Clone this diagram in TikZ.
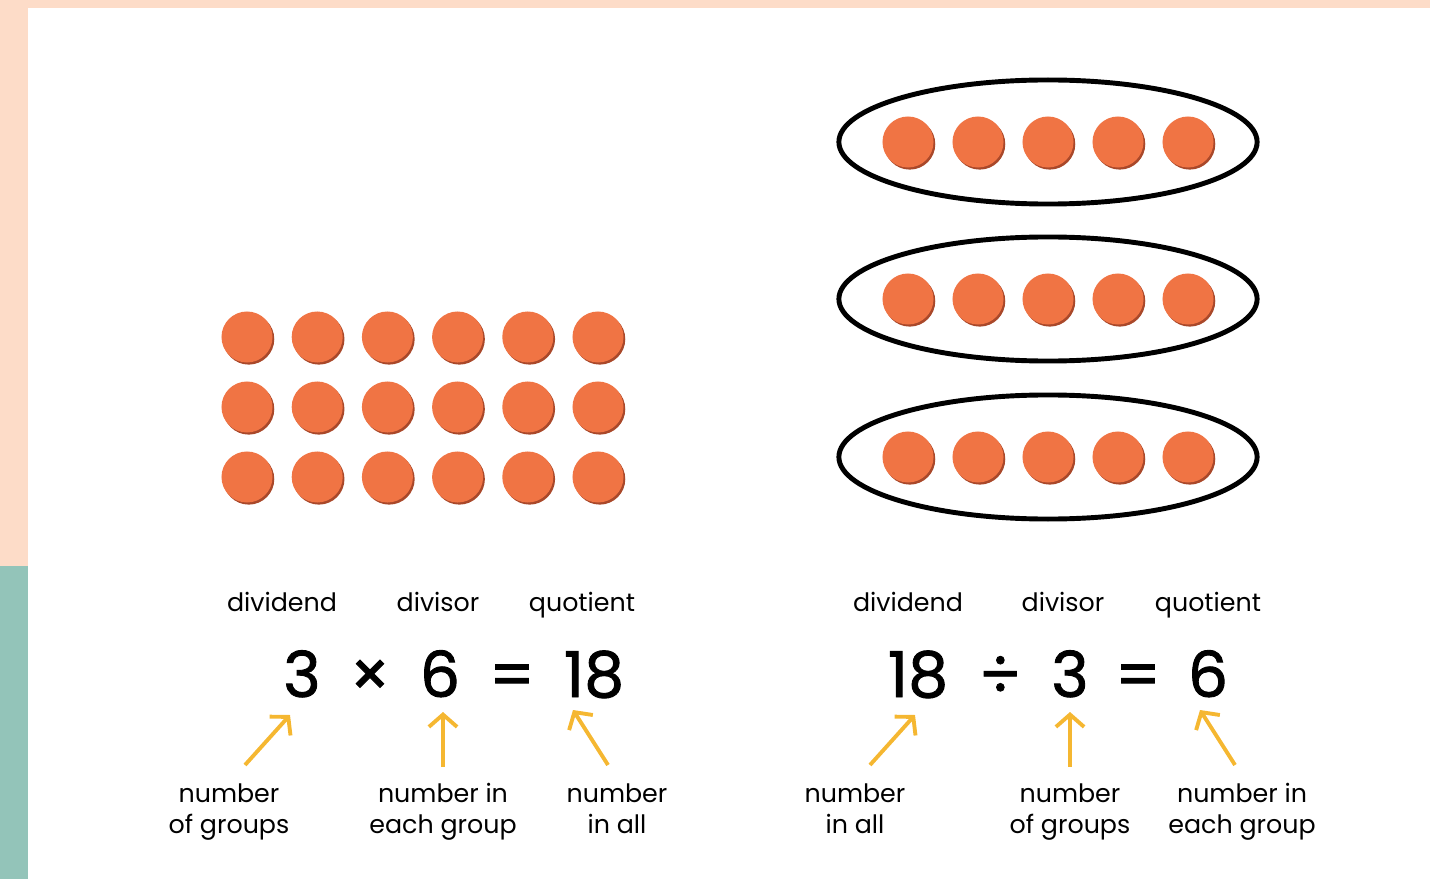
\documentclass[tikz,border=0pt]{standalone}
\usepackage{fontspec}
\setmainfont{Poppins}
\newfontfamily\numfont{Poppins}[FakeBold=1.4]
\usetikzlibrary{arrows.meta,shapes.geometric}
\definecolor{peach}{HTML}{FDDCC8}
\definecolor{sidegreen}{HTML}{93C4B9}
\definecolor{dotorange}{HTML}{F07444}
\definecolor{dotedge}{HTML}{A9482A}
\definecolor{arrowgold}{HTML}{F5B731}
\begin{document}
\begin{tikzpicture}[x=0.01cm, y=-0.01cm,
    dot/.style={circle, fill=dotorange, minimum size=0.51cm, inner sep=0pt,
        preaction={fill=dotedge, transform canvas={xshift=0.5pt, yshift=-0.6pt}}},
    group/.style={ellipse, draw, line width=1.4pt, minimum width=4.18cm, minimum height=1.24cm, inner sep=0pt},
    lab/.style={align=center, anchor=base, inner sep=0pt, font=\fontsize{7.2}{8.8}\selectfont},
    big/.style={anchor=base, inner sep=0pt, font=\fontsize{18}{20}\numfont},
    arr/.style={arrowgold, line width=1.1pt, -{Straight Barb[length=3.5pt, width=8pt]}}]
        \useasboundingbox (0,0) rectangle (1430,879);
        % background strips
        \fill[peach] (0,0) rectangle (1430,8);
        \fill[peach] (0,0) rectangle (28,566);
        \fill[sidegreen] (0,566) rectangle (28,879);
        % left array, 3 rows of 6
        \foreach \r in {0,1,2}
            \foreach \c in {0,...,5}
                \node[dot] (a\r\c) at (247+70.2*\c, 337+70*\r) {};
        % right side, 3 groups of 5
        \foreach \g/\y in {1/142, 2/299, 3/457} {
            \node[group] (g\g) at (1048,\y) {};
            \foreach \c in {0,...,4}
                \node[dot] (b\g\c) at (908+70*\c, \y) {};
        }
        % left equation
        \node[lab] (ldvd) at (282,611) {dividend};
        \node[lab] (ldvs) at (438,611) {divisor};
        \node[lab] (lquo) at (582,611) {quotient};
        \node[big] (l3) at (302,697) {3};
        \node[big] (lx) at (370,697) {×};
        \node[big] (l6) at (440,697) {6};
        \node[big] (leq) at (512,697) {=};
        \node[big] (l18) at (594,697) {18};
        \node[lab] (lgrp) at (229,833) {number\\of groups};
        \node[lab] (leach) at (443,833) {number in\\each group};
        \node[lab] (lall) at (617,833) {number\\in all};
        \coordinate (lt1) at (245,765); \coordinate (lh1) at (290,715);
        \coordinate (lt2) at (443,767); \coordinate (lh2) at (443,712);
        \coordinate (lt3) at (608,765); \coordinate (lh3) at (573,710);
        \draw[arr] (lt1) -- (lh1);
        \draw[arr] (lt2) -- (lh2);
        \draw[arr] (lt3) -- (lh3);
        % right equation
        \node[lab] (rdvd) at (908,611) {dividend};
        \node[lab] (rdvs) at (1063,611) {divisor};
        \node[lab] (rquo) at (1208,611) {quotient};
        \node[big] (r18) at (918,697) {18};
        \node[big] (rdiv) at (1000,697) {÷};
        \node[big] (r3) at (1070,697) {3};
        \node[big] (req) at (1138,697) {=};
        \node[big] (r6) at (1208,697) {6};
        \node[lab] (rall) at (855,833) {number\\in all};
        \node[lab] (rgrp) at (1070,833) {number\\of groups};
        \node[lab] (reach) at (1242,833) {number in\\each group};
        \coordinate (rt1) at (870,765); \coordinate (rh1) at (915,715);
        \coordinate (rt2) at (1070,767); \coordinate (rh2) at (1070,712);
        \coordinate (rt3) at (1235,765); \coordinate (rh3) at (1200,710);
        \draw[arr] (rt1) -- (rh1);
        \draw[arr] (rt2) -- (rh2);
        \draw[arr] (rt3) -- (rh3);
    \end{tikzpicture}
\end{document}
